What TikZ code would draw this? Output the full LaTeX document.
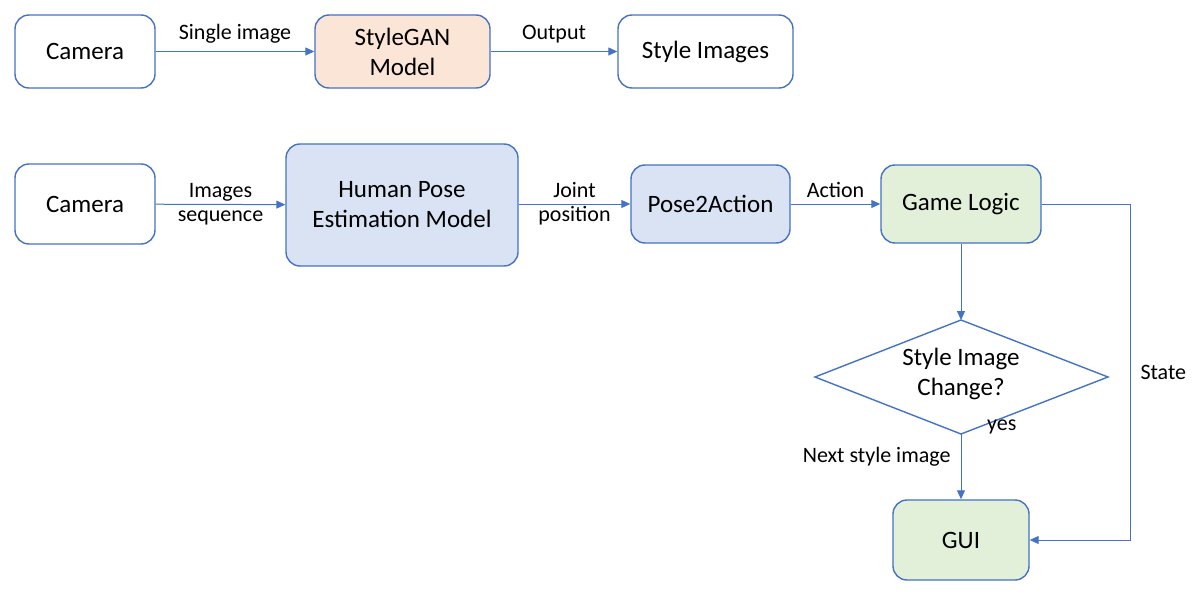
\documentclass[tikz,border=0pt]{standalone}
\usepackage{fontspec}
\setmainfont{Carlito}
\usetikzlibrary{arrows.meta,positioning,shapes.geometric}
\definecolor{lineblue}{RGB}{68,114,196}
\definecolor{ganfill}{RGB}{251,229,214}
\definecolor{posefill}{RGB}{218,227,243}
\definecolor{gamefill}{RGB}{226,240,217}
\tikzset{
  block/.style={draw=lineblue, line width=1.4pt, rounded corners=14pt, align=center,
    inner sep=0pt, font=\fontsize{25}{30}\selectfont},
  decision/.style={align=center, inner sep=0pt, font=\fontsize{25}{30}\selectfont},
  flowln/.style={-{Triangle[length=9pt,width=8pt]}, draw=lineblue, line width=1pt},
  lbl/.style={font=\fontsize{22}{26}\selectfont, align=center, inner sep=2pt},
}

\begin{document}
\begin{tikzpicture}[x=1pt, y=-1pt]
    \useasboundingbox (0,0) rectangle (1195,594);
    % Top row: StyleGAN branch
    \node[block, minimum width=140pt, minimum height=73pt] (cam1) at (85,51.5) {Camera};
    \node[block, fill=ganfill, minimum width=175pt, minimum height=73pt] (gan) at (402.5,51.5) {StyleGAN\\Model};
    \node[block, minimum width=175pt, minimum height=73pt] (styleimg) at (705.5,51.5) {Style Images};
    \draw[flowln] (cam1) -- node[lbl, above=6pt] {Single image} (gan);
    \draw[flowln] (gan) -- node[lbl, above=6pt] {Output} (styleimg);
    % Second row: pose pipeline
    \node[block, minimum width=140pt, minimum height=80pt] (cam2) at (85,204) {Camera};
    \node[block, fill=posefill, minimum width=232pt, minimum height=122pt] (hpe) at (402,205) {Human Pose\\Estimation Model};
    \node[block, fill=posefill, minimum width=159pt, minimum height=78pt] (p2a) at (710.5,204) {Pose2Action};
    \node[block, fill=gamefill, minimum width=160pt, minimum height=78pt] (game) at (961,204) {Game Logic};
    \draw[flowln] (cam2) -- node[lbl] {Images\\[-2pt]sequence} (hpe);
    \draw[flowln] (hpe.east |- p2a) -- node[lbl] {Joint\\[-2pt]position} (p2a);
    \draw[flowln] (p2a) -- node[lbl, above=4pt] {Action} (game);
    % Decision (drawn as a polygon) and GUI
    \node[decision] (change) at (961,374) {Style Image\\Change?};
    \coordinate (chgtop) at (961,320);
    \coordinate (chgright) at (1108,377);
    \coordinate (chgbot) at (961,434);
    \coordinate (chgleft) at (815,377);
    \draw[draw=lineblue, line width=1.4pt] (chgtop) -- (chgright) -- (chgbot) -- (chgleft) -- cycle;
    \node[block, fill=gamefill, minimum width=136pt, minimum height=80pt] (gui) at (961,540) {GUI};
    \draw[flowln] (game) -- (chgtop);
    \draw[flowln] (chgbot) -- node[lbl, left=8pt, pos=0.35] {Next style image} (gui);
    \node[lbl, anchor=west] (yes) at (985,427) {yes};
    \coordinate (stateturn) at (1130,204);
    \draw[flowln] (game.east) -- (stateturn) |- node[lbl, right=8pt, pos=0.25] {State} (gui.east);
\end{tikzpicture}
\end{document}
